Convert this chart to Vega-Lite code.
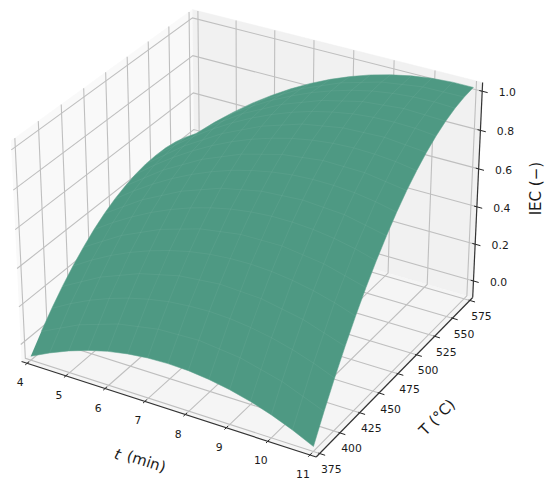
{"$schema":"https://vega.github.io/schema/vega-lite/v6.json","width":550,"height":488,"padding":0,"autosize":{"type":"fit","contains":"padding"},"background":"white","config":{"view":{"stroke":null}},
"data":{"values":[
{"k":"surface","t":4,"T":375,"IEC":-0.07},{"k":"surface","t":4,"T":400,"IEC":0.088},{"k":"surface","t":4,"T":425,"IEC":0.218},{"k":"surface","t":4,"T":450,"IEC":0.32},{"k":"surface","t":4,"T":475,"IEC":0.393},{"k":"surface","t":4,"T":500,"IEC":0.437},{"k":"surface","t":4,"T":525,"IEC":0.453},{"k":"surface","t":4,"T":550,"IEC":0.441},{"k":"surface","t":4,"T":575,"IEC":0.4},
{"k":"surface","t":5,"T":375,"IEC":0.025},{"k":"surface","t":5,"T":400,"IEC":0.195},{"k":"surface","t":5,"T":425,"IEC":0.336},{"k":"surface","t":5,"T":450,"IEC":0.447},{"k":"surface","t":5,"T":475,"IEC":0.53},{"k":"surface","t":5,"T":500,"IEC":0.584},{"k":"surface","t":5,"T":525,"IEC":0.609},{"k":"surface","t":5,"T":550,"IEC":0.604},{"k":"surface","t":5,"T":575,"IEC":0.571},
{"k":"surface","t":6,"T":375,"IEC":0.089},{"k":"surface","t":6,"T":400,"IEC":0.27},{"k":"surface","t":6,"T":425,"IEC":0.422},{"k":"surface","t":6,"T":450,"IEC":0.545},{"k":"surface","t":6,"T":475,"IEC":0.638},{"k":"surface","t":6,"T":500,"IEC":0.702},{"k":"surface","t":6,"T":525,"IEC":0.736},{"k":"surface","t":6,"T":550,"IEC":0.74},{"k":"surface","t":6,"T":575,"IEC":0.715},
{"k":"surface","t":7,"T":375,"IEC":0.121},{"k":"surface","t":7,"T":400,"IEC":0.315},{"k":"surface","t":7,"T":425,"IEC":0.479},{"k":"surface","t":7,"T":450,"IEC":0.613},{"k":"surface","t":7,"T":475,"IEC":0.717},{"k":"surface","t":7,"T":500,"IEC":0.791},{"k":"surface","t":7,"T":525,"IEC":0.834},{"k":"surface","t":7,"T":550,"IEC":0.848},{"k":"surface","t":7,"T":575,"IEC":0.832},
{"k":"surface","t":8,"T":375,"IEC":0.122},{"k":"surface","t":8,"T":400,"IEC":0.329},{"k":"surface","t":8,"T":425,"IEC":0.505},{"k":"surface","t":8,"T":450,"IEC":0.651},{"k":"surface","t":8,"T":475,"IEC":0.766},{"k":"surface","t":8,"T":500,"IEC":0.851},{"k":"surface","t":8,"T":525,"IEC":0.905},{"k":"surface","t":8,"T":550,"IEC":0.928},{"k":"surface","t":8,"T":575,"IEC":0.921},
{"k":"surface","t":9,"T":375,"IEC":0.091},{"k":"surface","t":9,"T":400,"IEC":0.311},{"k":"surface","t":9,"T":425,"IEC":0.501},{"k":"surface","t":9,"T":450,"IEC":0.659},{"k":"surface","t":9,"T":475,"IEC":0.786},{"k":"surface","t":9,"T":500,"IEC":0.882},{"k":"surface","t":9,"T":525,"IEC":0.947},{"k":"surface","t":9,"T":550,"IEC":0.981},{"k":"surface","t":9,"T":575,"IEC":0.983},
{"k":"surface","t":10,"T":375,"IEC":0.029},{"k":"surface","t":10,"T":400,"IEC":0.263},{"k":"surface","t":10,"T":425,"IEC":0.466},{"k":"surface","t":10,"T":450,"IEC":0.637},{"k":"surface","t":10,"T":475,"IEC":0.777},{"k":"surface","t":10,"T":500,"IEC":0.884},{"k":"surface","t":10,"T":525,"IEC":0.96},{"k":"surface","t":10,"T":550,"IEC":1.005},{"k":"surface","t":10,"T":575,"IEC":1.018},
{"k":"surface","t":11,"T":375,"IEC":-0.065},{"k":"surface","t":11,"T":400,"IEC":0.184},{"k":"surface","t":11,"T":425,"IEC":0.401},{"k":"surface","t":11,"T":450,"IEC":0.585},{"k":"surface","t":11,"T":475,"IEC":0.738},{"k":"surface","t":11,"T":500,"IEC":0.858},{"k":"surface","t":11,"T":525,"IEC":0.946},{"k":"surface","t":11,"T":550,"IEC":1.002},{"k":"surface","t":11,"T":575,"IEC":1.025},
{"k":"surface","t":4.5,"T":375,"IEC":-0.019},{"k":"surface","t":4.5,"T":400,"IEC":0.145},{"k":"surface","t":4.5,"T":425,"IEC":0.281},{"k":"surface","t":4.5,"T":450,"IEC":0.387},{"k":"surface","t":4.5,"T":475,"IEC":0.465},{"k":"surface","t":4.5,"T":500,"IEC":0.514},{"k":"surface","t":4.5,"T":525,"IEC":0.534},{"k":"surface","t":4.5,"T":550,"IEC":0.526},{"k":"surface","t":4.5,"T":575,"IEC":0.489},
{"k":"surface","t":5.5,"T":375,"IEC":0.061},{"k":"surface","t":5.5,"T":400,"IEC":0.236},{"k":"surface","t":5.5,"T":425,"IEC":0.383},{"k":"surface","t":5.5,"T":450,"IEC":0.5},{"k":"surface","t":5.5,"T":475,"IEC":0.588},{"k":"surface","t":5.5,"T":500,"IEC":0.646},{"k":"surface","t":5.5,"T":525,"IEC":0.676},{"k":"surface","t":5.5,"T":550,"IEC":0.676},{"k":"surface","t":5.5,"T":575,"IEC":0.647},
{"k":"surface","t":6.5,"T":375,"IEC":0.109},{"k":"surface","t":6.5,"T":400,"IEC":0.296},{"k":"surface","t":6.5,"T":425,"IEC":0.454},{"k":"surface","t":6.5,"T":450,"IEC":0.583},{"k":"surface","t":6.5,"T":475,"IEC":0.681},{"k":"surface","t":6.5,"T":500,"IEC":0.75},{"k":"surface","t":6.5,"T":525,"IEC":0.789},{"k":"surface","t":6.5,"T":550,"IEC":0.798},{"k":"surface","t":6.5,"T":575,"IEC":0.777},
{"k":"surface","t":7.5,"T":375,"IEC":0.125},{"k":"surface","t":7.5,"T":400,"IEC":0.325},{"k":"surface","t":7.5,"T":425,"IEC":0.496},{"k":"surface","t":7.5,"T":450,"IEC":0.636},{"k":"surface","t":7.5,"T":475,"IEC":0.745},{"k":"surface","t":7.5,"T":500,"IEC":0.824},{"k":"surface","t":7.5,"T":525,"IEC":0.873},{"k":"surface","t":7.5,"T":550,"IEC":0.892},{"k":"surface","t":7.5,"T":575,"IEC":0.88},
{"k":"surface","t":8.5,"T":375,"IEC":0.11},{"k":"surface","t":8.5,"T":400,"IEC":0.324},{"k":"surface","t":8.5,"T":425,"IEC":0.507},{"k":"surface","t":8.5,"T":450,"IEC":0.659},{"k":"surface","t":8.5,"T":475,"IEC":0.78},{"k":"surface","t":8.5,"T":500,"IEC":0.87},{"k":"surface","t":8.5,"T":525,"IEC":0.929},{"k":"surface","t":8.5,"T":550,"IEC":0.958},{"k":"surface","t":8.5,"T":575,"IEC":0.956},
{"k":"surface","t":9.5,"T":375,"IEC":0.064},{"k":"surface","t":9.5,"T":400,"IEC":0.291},{"k":"surface","t":9.5,"T":425,"IEC":0.487},{"k":"surface","t":9.5,"T":450,"IEC":0.652},{"k":"surface","t":9.5,"T":475,"IEC":0.785},{"k":"surface","t":9.5,"T":500,"IEC":0.887},{"k":"surface","t":9.5,"T":525,"IEC":0.957},{"k":"surface","t":9.5,"T":550,"IEC":0.996},{"k":"surface","t":9.5,"T":575,"IEC":1.004},
{"k":"surface","t":10.5,"T":375,"IEC":-0.014},{"k":"surface","t":10.5,"T":400,"IEC":0.227},{"k":"surface","t":10.5,"T":425,"IEC":0.437},{"k":"surface","t":10.5,"T":450,"IEC":0.615},{"k":"surface","t":10.5,"T":475,"IEC":0.761},{"k":"surface","t":10.5,"T":500,"IEC":0.875},{"k":"surface","t":10.5,"T":525,"IEC":0.957},{"k":"surface","t":10.5,"T":550,"IEC":1.007},{"k":"surface","t":10.5,"T":575,"IEC":1.025},
{"k":"surface","t":4,"T":387.5,"IEC":0.013},{"k":"surface","t":4,"T":412.5,"IEC":0.157},{"k":"surface","t":4,"T":437.5,"IEC":0.272},{"k":"surface","t":4,"T":462.5,"IEC":0.36},{"k":"surface","t":4,"T":487.5,"IEC":0.418},{"k":"surface","t":4,"T":512.5,"IEC":0.449},{"k":"surface","t":4,"T":537.5,"IEC":0.451},{"k":"surface","t":4,"T":562.5,"IEC":0.424},
{"k":"surface","t":5,"T":387.5,"IEC":0.114},{"k":"surface","t":5,"T":412.5,"IEC":0.269},{"k":"surface","t":5,"T":437.5,"IEC":0.395},{"k":"surface","t":5,"T":462.5,"IEC":0.492},{"k":"surface","t":5,"T":487.5,"IEC":0.56},{"k":"surface","t":5,"T":512.5,"IEC":0.6},{"k":"surface","t":5,"T":537.5,"IEC":0.61},{"k":"surface","t":5,"T":562.5,"IEC":0.592},
{"k":"surface","t":6,"T":387.5,"IEC":0.183},{"k":"surface","t":6,"T":412.5,"IEC":0.35},{"k":"surface","t":6,"T":437.5,"IEC":0.487},{"k":"surface","t":6,"T":462.5,"IEC":0.595},{"k":"surface","t":6,"T":487.5,"IEC":0.673},{"k":"surface","t":6,"T":512.5,"IEC":0.722},{"k":"surface","t":6,"T":537.5,"IEC":0.742},{"k":"surface","t":6,"T":562.5,"IEC":0.731},
{"k":"surface","t":7,"T":387.5,"IEC":0.221},{"k":"surface","t":7,"T":412.5,"IEC":0.401},{"k":"surface","t":7,"T":437.5,"IEC":0.55},{"k":"surface","t":7,"T":462.5,"IEC":0.669},{"k":"surface","t":7,"T":487.5,"IEC":0.757},{"k":"surface","t":7,"T":512.5,"IEC":0.816},{"k":"surface","t":7,"T":537.5,"IEC":0.845},{"k":"surface","t":7,"T":562.5,"IEC":0.844},
{"k":"surface","t":8,"T":387.5,"IEC":0.229},{"k":"surface","t":8,"T":412.5,"IEC":0.421},{"k":"surface","t":8,"T":437.5,"IEC":0.582},{"k":"surface","t":8,"T":462.5,"IEC":0.712},{"k":"surface","t":8,"T":487.5,"IEC":0.812},{"k":"surface","t":8,"T":512.5,"IEC":0.882},{"k":"surface","t":8,"T":537.5,"IEC":0.92},{"k":"surface","t":8,"T":562.5,"IEC":0.929},
{"k":"surface","t":9,"T":387.5,"IEC":0.205},{"k":"surface","t":9,"T":412.5,"IEC":0.41},{"k":"surface","t":9,"T":437.5,"IEC":0.584},{"k":"surface","t":9,"T":462.5,"IEC":0.726},{"k":"surface","t":9,"T":487.5,"IEC":0.838},{"k":"surface","t":9,"T":512.5,"IEC":0.918},{"k":"surface","t":9,"T":537.5,"IEC":0.968},{"k":"surface","t":9,"T":562.5,"IEC":0.986},
{"k":"surface","t":10,"T":387.5,"IEC":0.15},{"k":"surface","t":10,"T":412.5,"IEC":0.368},{"k":"surface","t":10,"T":437.5,"IEC":0.555},{"k":"surface","t":10,"T":462.5,"IEC":0.711},{"k":"surface","t":10,"T":487.5,"IEC":0.834},{"k":"surface","t":10,"T":512.5,"IEC":0.926},{"k":"surface","t":10,"T":537.5,"IEC":0.987},{"k":"surface","t":10,"T":562.5,"IEC":1.015},
{"k":"surface","t":11,"T":387.5,"IEC":0.064},{"k":"surface","t":11,"T":412.5,"IEC":0.296},{"k":"surface","t":11,"T":437.5,"IEC":0.497},{"k":"surface","t":11,"T":462.5,"IEC":0.665},{"k":"surface","t":11,"T":487.5,"IEC":0.802},{"k":"surface","t":11,"T":512.5,"IEC":0.906},{"k":"surface","t":11,"T":537.5,"IEC":0.978},{"k":"surface","t":11,"T":562.5,"IEC":1.017},
{"k":"paneL","o":0,"t":3.854,"T":370.83,"IEC":-0.091},{"k":"paneL","o":1,"t":3.854,"T":579.17,"IEC":-0.091},{"k":"paneL","o":2,"t":3.854,"T":579.17,"IEC":1.044},{"k":"paneL","o":3,"t":3.854,"T":370.83,"IEC":1.044},
{"k":"paneB","o":0,"t":3.854,"T":579.17,"IEC":-0.091},{"k":"paneB","o":1,"t":11.146,"T":579.17,"IEC":-0.091},{"k":"paneB","o":2,"t":11.146,"T":579.17,"IEC":1.044},{"k":"paneB","o":3,"t":3.854,"T":579.17,"IEC":1.044},
{"k":"paneF","o":0,"t":3.854,"T":370.83,"IEC":-0.091},{"k":"paneF","o":1,"t":11.146,"T":370.83,"IEC":-0.091},{"k":"paneF","o":2,"t":11.146,"T":579.17,"IEC":-0.091},{"k":"paneF","o":3,"t":3.854,"T":579.17,"IEC":-0.091},
{"k":"grid","g":"t4","o":0,"t":4,"T":370.83,"IEC":-0.091},{"k":"grid","g":"t4","o":1,"t":4,"T":579.17,"IEC":-0.091},{"k":"grid","g":"t4","o":2,"t":4,"T":579.17,"IEC":1.044},
{"k":"grid","g":"t5","o":0,"t":5,"T":370.83,"IEC":-0.091},{"k":"grid","g":"t5","o":1,"t":5,"T":579.17,"IEC":-0.091},{"k":"grid","g":"t5","o":2,"t":5,"T":579.17,"IEC":1.044},
{"k":"grid","g":"t6","o":0,"t":6,"T":370.83,"IEC":-0.091},{"k":"grid","g":"t6","o":1,"t":6,"T":579.17,"IEC":-0.091},{"k":"grid","g":"t6","o":2,"t":6,"T":579.17,"IEC":1.044},
{"k":"grid","g":"t7","o":0,"t":7,"T":370.83,"IEC":-0.091},{"k":"grid","g":"t7","o":1,"t":7,"T":579.17,"IEC":-0.091},{"k":"grid","g":"t7","o":2,"t":7,"T":579.17,"IEC":1.044},
{"k":"grid","g":"t8","o":0,"t":8,"T":370.83,"IEC":-0.091},{"k":"grid","g":"t8","o":1,"t":8,"T":579.17,"IEC":-0.091},{"k":"grid","g":"t8","o":2,"t":8,"T":579.17,"IEC":1.044},
{"k":"grid","g":"t9","o":0,"t":9,"T":370.83,"IEC":-0.091},{"k":"grid","g":"t9","o":1,"t":9,"T":579.17,"IEC":-0.091},{"k":"grid","g":"t9","o":2,"t":9,"T":579.17,"IEC":1.044},
{"k":"grid","g":"t10","o":0,"t":10,"T":370.83,"IEC":-0.091},{"k":"grid","g":"t10","o":1,"t":10,"T":579.17,"IEC":-0.091},{"k":"grid","g":"t10","o":2,"t":10,"T":579.17,"IEC":1.044},
{"k":"grid","g":"t11","o":0,"t":11,"T":370.83,"IEC":-0.091},{"k":"grid","g":"t11","o":1,"t":11,"T":579.17,"IEC":-0.091},{"k":"grid","g":"t11","o":2,"t":11,"T":579.17,"IEC":1.044},
{"k":"grid","g":"T375","o":0,"t":11.146,"T":375,"IEC":-0.091},{"k":"grid","g":"T375","o":1,"t":3.854,"T":375,"IEC":-0.091},{"k":"grid","g":"T375","o":2,"t":3.854,"T":375,"IEC":1.044},
{"k":"grid","g":"T400","o":0,"t":11.146,"T":400,"IEC":-0.091},{"k":"grid","g":"T400","o":1,"t":3.854,"T":400,"IEC":-0.091},{"k":"grid","g":"T400","o":2,"t":3.854,"T":400,"IEC":1.044},
{"k":"grid","g":"T425","o":0,"t":11.146,"T":425,"IEC":-0.091},{"k":"grid","g":"T425","o":1,"t":3.854,"T":425,"IEC":-0.091},{"k":"grid","g":"T425","o":2,"t":3.854,"T":425,"IEC":1.044},
{"k":"grid","g":"T450","o":0,"t":11.146,"T":450,"IEC":-0.091},{"k":"grid","g":"T450","o":1,"t":3.854,"T":450,"IEC":-0.091},{"k":"grid","g":"T450","o":2,"t":3.854,"T":450,"IEC":1.044},
{"k":"grid","g":"T475","o":0,"t":11.146,"T":475,"IEC":-0.091},{"k":"grid","g":"T475","o":1,"t":3.854,"T":475,"IEC":-0.091},{"k":"grid","g":"T475","o":2,"t":3.854,"T":475,"IEC":1.044},
{"k":"grid","g":"T500","o":0,"t":11.146,"T":500,"IEC":-0.091},{"k":"grid","g":"T500","o":1,"t":3.854,"T":500,"IEC":-0.091},{"k":"grid","g":"T500","o":2,"t":3.854,"T":500,"IEC":1.044},
{"k":"grid","g":"T525","o":0,"t":11.146,"T":525,"IEC":-0.091},{"k":"grid","g":"T525","o":1,"t":3.854,"T":525,"IEC":-0.091},{"k":"grid","g":"T525","o":2,"t":3.854,"T":525,"IEC":1.044},
{"k":"grid","g":"T550","o":0,"t":11.146,"T":550,"IEC":-0.091},{"k":"grid","g":"T550","o":1,"t":3.854,"T":550,"IEC":-0.091},{"k":"grid","g":"T550","o":2,"t":3.854,"T":550,"IEC":1.044},
{"k":"grid","g":"T575","o":0,"t":11.146,"T":575,"IEC":-0.091},{"k":"grid","g":"T575","o":1,"t":3.854,"T":575,"IEC":-0.091},{"k":"grid","g":"T575","o":2,"t":3.854,"T":575,"IEC":1.044},
{"k":"grid","g":"z0","o":0,"t":3.854,"T":370.83,"IEC":0},{"k":"grid","g":"z0","o":1,"t":3.854,"T":579.17,"IEC":0},{"k":"grid","g":"z0","o":2,"t":11.146,"T":579.17,"IEC":0},
{"k":"grid","g":"z2","o":0,"t":3.854,"T":370.83,"IEC":0.2},{"k":"grid","g":"z2","o":1,"t":3.854,"T":579.17,"IEC":0.2},{"k":"grid","g":"z2","o":2,"t":11.146,"T":579.17,"IEC":0.2},
{"k":"grid","g":"z4","o":0,"t":3.854,"T":370.83,"IEC":0.4},{"k":"grid","g":"z4","o":1,"t":3.854,"T":579.17,"IEC":0.4},{"k":"grid","g":"z4","o":2,"t":11.146,"T":579.17,"IEC":0.4},
{"k":"grid","g":"z6","o":0,"t":3.854,"T":370.83,"IEC":0.6},{"k":"grid","g":"z6","o":1,"t":3.854,"T":579.17,"IEC":0.6},{"k":"grid","g":"z6","o":2,"t":11.146,"T":579.17,"IEC":0.6},
{"k":"grid","g":"z8","o":0,"t":3.854,"T":370.83,"IEC":0.8},{"k":"grid","g":"z8","o":1,"t":3.854,"T":579.17,"IEC":0.8},{"k":"grid","g":"z8","o":2,"t":11.146,"T":579.17,"IEC":0.8},
{"k":"grid","g":"z10","o":0,"t":3.854,"T":370.83,"IEC":1},{"k":"grid","g":"z10","o":1,"t":3.854,"T":579.17,"IEC":1},{"k":"grid","g":"z10","o":2,"t":11.146,"T":579.17,"IEC":1},
{"k":"axis","g":"t","o":0,"t":3.854,"T":370.83,"IEC":-0.091},{"k":"axis","g":"t","o":1,"t":11.146,"T":370.83,"IEC":-0.091},
{"k":"axis","g":"T","o":0,"t":11.146,"T":370.83,"IEC":-0.091},{"k":"axis","g":"T","o":1,"t":11.146,"T":579.17,"IEC":-0.091},
{"k":"axis","g":"z","o":0,"t":11.146,"T":579.17,"IEC":-0.091},{"k":"axis","g":"z","o":1,"t":11.146,"T":579.17,"IEC":1.044},
{"k":"tick","g":"t4","o":0,"t":4,"T":368.7,"IEC":-0.091},{"k":"tick","g":"t4","o":1,"t":4,"T":372.9,"IEC":-0.091},
{"k":"tick","g":"t5","o":0,"t":5,"T":368.7,"IEC":-0.091},{"k":"tick","g":"t5","o":1,"t":5,"T":372.9,"IEC":-0.091},
{"k":"tick","g":"t6","o":0,"t":6,"T":368.7,"IEC":-0.091},{"k":"tick","g":"t6","o":1,"t":6,"T":372.9,"IEC":-0.091},
{"k":"tick","g":"t7","o":0,"t":7,"T":368.7,"IEC":-0.091},{"k":"tick","g":"t7","o":1,"t":7,"T":372.9,"IEC":-0.091},
{"k":"tick","g":"t8","o":0,"t":8,"T":368.7,"IEC":-0.091},{"k":"tick","g":"t8","o":1,"t":8,"T":372.9,"IEC":-0.091},
{"k":"tick","g":"t9","o":0,"t":9,"T":368.7,"IEC":-0.091},{"k":"tick","g":"t9","o":1,"t":9,"T":372.9,"IEC":-0.091},
{"k":"tick","g":"t10","o":0,"t":10,"T":368.7,"IEC":-0.091},{"k":"tick","g":"t10","o":1,"t":10,"T":372.9,"IEC":-0.091},
{"k":"tick","g":"t11","o":0,"t":11,"T":368.7,"IEC":-0.091},{"k":"tick","g":"t11","o":1,"t":11,"T":372.9,"IEC":-0.091},
{"k":"tick","g":"T375","o":0,"t":11.116,"T":375,"IEC":-0.091},{"k":"tick","g":"T375","o":1,"t":11.276,"T":375,"IEC":-0.091},
{"k":"tick","g":"T400","o":0,"t":11.116,"T":400,"IEC":-0.091},{"k":"tick","g":"T400","o":1,"t":11.276,"T":400,"IEC":-0.091},
{"k":"tick","g":"T425","o":0,"t":11.116,"T":425,"IEC":-0.091},{"k":"tick","g":"T425","o":1,"t":11.276,"T":425,"IEC":-0.091},
{"k":"tick","g":"T450","o":0,"t":11.116,"T":450,"IEC":-0.091},{"k":"tick","g":"T450","o":1,"t":11.276,"T":450,"IEC":-0.091},
{"k":"tick","g":"T475","o":0,"t":11.116,"T":475,"IEC":-0.091},{"k":"tick","g":"T475","o":1,"t":11.276,"T":475,"IEC":-0.091},
{"k":"tick","g":"T500","o":0,"t":11.116,"T":500,"IEC":-0.091},{"k":"tick","g":"T500","o":1,"t":11.276,"T":500,"IEC":-0.091},
{"k":"tick","g":"T525","o":0,"t":11.116,"T":525,"IEC":-0.091},{"k":"tick","g":"T525","o":1,"t":11.276,"T":525,"IEC":-0.091},
{"k":"tick","g":"T550","o":0,"t":11.116,"T":550,"IEC":-0.091},{"k":"tick","g":"T550","o":1,"t":11.276,"T":550,"IEC":-0.091},
{"k":"tick","g":"T575","o":0,"t":11.116,"T":575,"IEC":-0.091},{"k":"tick","g":"T575","o":1,"t":11.276,"T":575,"IEC":-0.091},
{"k":"tick","g":"z0","o":0,"t":11.076,"T":579.17,"IEC":0},{"k":"tick","g":"z0","o":1,"t":11.276,"T":579.17,"IEC":0},
{"k":"tick","g":"z2","o":0,"t":11.076,"T":579.17,"IEC":0.2},{"k":"tick","g":"z2","o":1,"t":11.276,"T":579.17,"IEC":0.2},
{"k":"tick","g":"z4","o":0,"t":11.076,"T":579.17,"IEC":0.4},{"k":"tick","g":"z4","o":1,"t":11.276,"T":579.17,"IEC":0.4},
{"k":"tick","g":"z6","o":0,"t":11.076,"T":579.17,"IEC":0.6},{"k":"tick","g":"z6","o":1,"t":11.276,"T":579.17,"IEC":0.6},
{"k":"tick","g":"z8","o":0,"t":11.076,"T":579.17,"IEC":0.8},{"k":"tick","g":"z8","o":1,"t":11.276,"T":579.17,"IEC":0.8},
{"k":"tick","g":"z10","o":0,"t":11.076,"T":579.17,"IEC":1},{"k":"tick","g":"z10","o":1,"t":11.276,"T":579.17,"IEC":1},
{"k":"labelt","label":"4","t":4,"T":370.83,"IEC":-0.091},{"k":"labelt","label":"5","t":5,"T":370.83,"IEC":-0.091},{"k":"labelt","label":"6","t":6,"T":370.83,"IEC":-0.091},{"k":"labelt","label":"7","t":7,"T":370.83,"IEC":-0.091},{"k":"labelt","label":"8","t":8,"T":370.83,"IEC":-0.091},{"k":"labelt","label":"9","t":9,"T":370.83,"IEC":-0.091},{"k":"labelt","label":"10","t":10,"T":370.83,"IEC":-0.091},{"k":"labelt","label":"11","t":11,"T":370.83,"IEC":-0.091},
{"k":"labelT","label":"375","t":11.146,"T":375,"IEC":-0.091},{"k":"labelT","label":"400","t":11.146,"T":400,"IEC":-0.091},{"k":"labelT","label":"425","t":11.146,"T":425,"IEC":-0.091},{"k":"labelT","label":"450","t":11.146,"T":450,"IEC":-0.091},{"k":"labelT","label":"475","t":11.146,"T":475,"IEC":-0.091},{"k":"labelT","label":"500","t":11.146,"T":500,"IEC":-0.091},{"k":"labelT","label":"525","t":11.146,"T":525,"IEC":-0.091},{"k":"labelT","label":"550","t":11.146,"T":550,"IEC":-0.091},{"k":"labelT","label":"575","t":11.146,"T":575,"IEC":-0.091},
{"k":"labelz","label":"0.0","t":11.146,"T":579.17,"IEC":0},{"k":"labelz","label":"0.2","t":11.146,"T":579.17,"IEC":0.2},{"k":"labelz","label":"0.4","t":11.146,"T":579.17,"IEC":0.4},{"k":"labelz","label":"0.6","t":11.146,"T":579.17,"IEC":0.6},{"k":"labelz","label":"0.8","t":11.146,"T":579.17,"IEC":0.8},{"k":"labelz","label":"1.0","t":11.146,"T":579.17,"IEC":1},
{"k":"titlet","label":"t","t":6.27,"T":370.83,"IEC":-0.428},
{"k":"titlem","label":"(min)","t":7.0,"T":370.83,"IEC":-0.415},
{"k":"titleT","label":"T (°C)","t":11.146,"T":533.3,"IEC":-0.575},
{"k":"titlez","label":"IEC (−)","t":12.53,"T":579.17,"IEC":0.577}
]},
"transform":[
{"calculate":"(datum.t-3.854)/7.292","as":"a"},
{"calculate":"(datum.T-370.83)/208.34","as":"b"},
{"calculate":"(datum.IEC+0.091)/1.135","as":"c"},
{"calculate":"(datum.a-0.5)*1.1905","as":"qx"},
{"calculate":"(datum.b-0.5)*1.1905","as":"qy"},
{"calculate":"(datum.c-0.5)*0.8929","as":"qz"},
{"calculate":"10-(0.433*datum.qx-0.75*datum.qy+0.5*datum.qz)","as":"den"},
{"calculate":"(0.866*datum.qx+0.5*datum.qy)/datum.den","as":"xp"},
{"calculate":"(-0.25*datum.qx+0.433*datum.qy+0.866*datum.qz)/datum.den","as":"yp"}
],
"encoding":{
"x":{"field":"xp","type":"quantitative","axis":null,"scale":{"domain":[-0.08864,0.10536],"nice":false,"zero":false}},
"y":{"field":"yp","type":"quantitative","axis":null,"scale":{"domain":[-0.09435,0.07906],"nice":false,"zero":false}}
},
"layer":[
{"transform":[{"filter":"datum.k=='paneL'"}],"mark":{"type":"line","fill":"#f9f9f9","stroke":"#f9f9f9","strokeWidth":0.5},"encoding":{"order":{"field":"o","type":"quantitative"}}},
{"transform":[{"filter":"datum.k=='paneB'"}],"mark":{"type":"line","fill":"#f1f1f1","stroke":"#f1f1f1","strokeWidth":0.5},"encoding":{"order":{"field":"o","type":"quantitative"}}},
{"transform":[{"filter":"datum.k=='paneF'"}],"mark":{"type":"line","fill":"#f5f5f5","stroke":"#f5f5f5","strokeWidth":0.5},"encoding":{"order":{"field":"o","type":"quantitative"}}},
{"transform":[{"filter":"datum.k=='grid'"}],"mark":{"type":"line","stroke":"#bfbfbf","strokeWidth":1.1},"encoding":{"detail":{"field":"g"},"order":{"field":"o","type":"quantitative"}}},
{"transform":[{"filter":"datum.k=='tick'"}],"mark":{"type":"line","stroke":"#222222","strokeWidth":1},"encoding":{"detail":{"field":"g"},"order":{"field":"o","type":"quantitative"}}},
{"transform":[{"filter":"datum.k=='axis'"}],"mark":{"type":"line","stroke":"#333333","strokeWidth":1.2},"encoding":{"detail":{"field":"g"},"order":{"field":"o","type":"quantitative"}}},
{"transform":[{"filter":"datum.k=='surface'&&(datum.t==4||datum.t==11||datum.T==375||datum.T==575)"},{"calculate":"datum.T==375?datum.t-4:(datum.t==11?7+(datum.T-375)/25:(datum.T==575?15+(11-datum.t):22+(575-datum.T)/25))","as":"edge"}],"mark":{"type":"line","fill":"#4e9983","stroke":"#4e9983","strokeWidth":0.5},"encoding":{"order":{"field":"edge","type":"quantitative"}}},
{"transform":[{"filter":"datum.k=='surface'"}],"mark":{"type":"line","stroke":"#ffffff","strokeOpacity":0.05,"strokeWidth":1},"encoding":{"detail":{"field":"t"},"order":{"field":"T","type":"quantitative"}}},
{"transform":[{"filter":"datum.k=='surface'"}],"mark":{"type":"line","stroke":"#ffffff","strokeOpacity":0.05,"strokeWidth":1},"encoding":{"detail":{"field":"T"},"order":{"field":"t","type":"quantitative"}}},
{"transform":[{"filter":"datum.k=='labelt'"}],"mark":{"type":"text","font":"DejaVu Sans","fontSize":10.8,"fill":"#1a1a1a","align":"center","baseline":"middle","dx":-7,"dy":20},"encoding":{"text":{"field":"label"}}},
{"transform":[{"filter":"datum.k=='labelT'"}],"mark":{"type":"text","font":"DejaVu Sans","fontSize":10.8,"fill":"#1a1a1a","align":"center","baseline":"middle","dx":11.6,"dy":16.6},"encoding":{"text":{"field":"label"}}},
{"transform":[{"filter":"datum.k=='labelz'"}],"mark":{"type":"text","font":"DejaVu Sans","fontSize":10.8,"fill":"#1a1a1a","align":"center","baseline":"middle","dx":25,"dy":1.7},"encoding":{"text":{"field":"label"}}},
{"transform":[{"filter":"datum.k=='titlet'"}],"mark":{"type":"text","font":"DejaVu Sans","fontSize":15,"fontStyle":"italic","fill":"#1a1a1a","align":"center","baseline":"middle","angle":18},"encoding":{"text":{"field":"label"}}},
{"transform":[{"filter":"datum.k=='titlem'"}],"mark":{"type":"text","font":"DejaVu Sans","fontSize":15,"fill":"#1a1a1a","align":"center","baseline":"middle","angle":18},"encoding":{"text":{"field":"label"}}},
{"transform":[{"filter":"datum.k=='titleT'"}],"mark":{"type":"text","font":"DejaVu Sans","fontSize":15,"fill":"#1a1a1a","align":"center","baseline":"middle","angle":315},"encoding":{"text":{"field":"label"}}},
{"transform":[{"filter":"datum.k=='titlez'"}],"mark":{"type":"text","font":"DejaVu Sans","fontSize":15,"fill":"#1a1a1a","align":"center","baseline":"middle","angle":270},"encoding":{"text":{"field":"label"}}}
]}
